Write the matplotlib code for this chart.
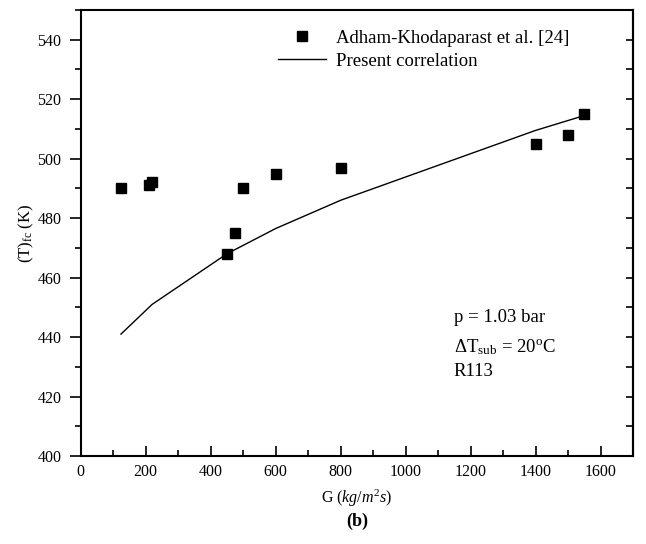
import matplotlib.pyplot as plt
from matplotlib.ticker import MultipleLocator

plt.rcParams['font.family'] = ['Liberation Serif', 'DejaVu Serif']
plt.rcParams['mathtext.fontset'] = 'custom'
plt.rcParams['mathtext.rm'] = 'Liberation Serif'
plt.rcParams['mathtext.it'] = 'Liberation Serif:italic'
plt.rcParams['mathtext.bf'] = 'Liberation Serif:bold'

# experimental data (Adham-Khodaparast et al.)
g_exp = [124, 210, 220, 450, 475, 500, 600, 800, 1400, 1500, 1550]
t_exp = [490, 491, 492, 468, 475, 490, 495, 497, 505, 508, 515]

# present correlation
g_cor = [124, 220, 450, 600, 800, 1400, 1550]
t_cor = [441, 451, 468, 476.5, 486, 509.5, 514.5]

fig = plt.figure(figsize=(6.46, 5.44), dpi=100)
ax = fig.add_axes([80.7 / 646, 1 - 456 / 544, (633 - 80.7) / 646, (456 - 10) / 544])

ax.plot(g_exp, t_exp, 's', color='black', markersize=6.5, linestyle='none',
        label='Adham-Khodaparast et al. [24]')
ax.plot(g_cor, t_cor, '-', color='black', linewidth=1.0, label='Present correlation')

ax.set_xlim(0, 1700)
ax.set_ylim(400, 550)
ax.xaxis.set_major_locator(MultipleLocator(200))
ax.xaxis.set_minor_locator(MultipleLocator(100))
ax.yaxis.set_major_locator(MultipleLocator(20))
ax.yaxis.set_minor_locator(MultipleLocator(10))
ax.set_yticks([400, 420, 440, 460, 480, 500, 520, 540])

ax.tick_params(axis='x', which='both', direction='in', top=False, labelsize=11.5, pad=6)
ax.tick_params(axis='x', which='major', length=7, width=1.2)
ax.tick_params(axis='x', which='minor', length=4, width=1.2)
ax.tick_params(axis='y', which='both', direction='out', right=False, labelsize=11.5, pad=6)
ax.tick_params(axis='y', which='major', length=8, width=1.2)
ax.tick_params(axis='y', which='minor', length=4, width=1.2)

sec = ax.secondary_yaxis('right')
sec.yaxis.set_major_locator(MultipleLocator(10))
sec.tick_params(direction='in', length=5, width=1.2, labelright=False)

for s in ax.spines.values():
    s.set_linewidth(1.5)
sec.spines['right'].set_linewidth(1.5)

ax.set_xlabel(r'G ($\mathit{kg/m^2s}$)', fontsize=11.5, labelpad=5)
ax.set_ylabel(r'(T)$_{\rm fc}$ (K)', fontsize=12, labelpad=1)

ax.legend(loc='upper left', bbox_to_anchor=(0.333, 0.985), frameon=False,
          fontsize=13.5, handlelength=2.6, handletextpad=0.5, borderpad=0.2,
          labelspacing=0.3, markerscale=1.1, numpoints=1)

ax.text(0.675, 0.31, 'p = 1.03 bar', transform=ax.transAxes, fontsize=13.5, va='center')
ax.text(0.675, 0.245, r'$\Delta$T$_{\rm sub}$ = 20$^{\rm o}$C', transform=ax.transAxes,
        fontsize=13.5, va='center')
ax.text(0.675, 0.19, 'R113', transform=ax.transAxes, fontsize=13.5, va='center')

fig.text(357 / 646, 1 - 521 / 544, '(b)', fontsize=13, fontweight='bold', ha='center', va='center')

fig.savefig('out.png', dpi=100)
